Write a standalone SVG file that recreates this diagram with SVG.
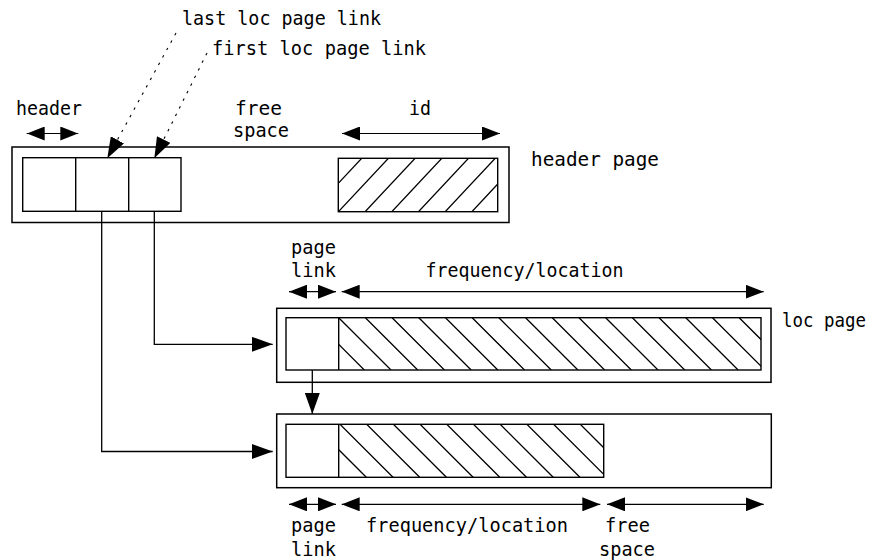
<svg xmlns="http://www.w3.org/2000/svg" width="877" height="560" viewBox="0 0 877 560">
  <defs>
    <style>
      .box { fill: #fff; stroke: #000; stroke-width: 1.5; }
      .cell { fill: none; stroke: #000; stroke-width: 1.4; }
      .hatch { fill: none; stroke: #000; stroke-width: 1.3; }
      .dim { fill: none; stroke: #000; stroke-width: 1.2; marker-start: url(#ah); marker-end: url(#ah); }
      .conn { fill: none; stroke: #000; stroke-width: 1.3; marker-end: url(#ahBig); }
      .dot { fill: none; stroke: #000; stroke-width: 1.1; stroke-dasharray: 2.5 6; marker-end: url(#ahBig); }
      text { font-family: "DejaVu Sans Mono", "Liberation Mono", monospace; font-size: 19.5px; fill: #000; }
    </style>
    <marker id="ah" viewBox="0 0 18 14" markerWidth="18" markerHeight="14" markerUnits="userSpaceOnUse" refX="18" refY="7" orient="auto-start-reverse">
      <path d="M0,0 L18,7 L0,14 z" fill="#000"/>
    </marker>
    <marker id="ahBig" viewBox="0 0 21 15" markerWidth="21" markerHeight="15" markerUnits="userSpaceOnUse" refX="21" refY="7.5" orient="auto">
      <path d="M0,0 L21,7.5 L0,15 z" fill="#000"/>
    </marker>
    <clipPath id="clipId"><rect x="338.3" y="158.3" width="159.4" height="53.4"/></clipPath>
    <clipPath id="clipLoc1"><rect x="338.7" y="317.7" width="422.3" height="52.3"/></clipPath>
    <clipPath id="clipLoc2"><rect x="338.7" y="424.3" width="265" height="53"/></clipPath>
  </defs>
  <rect width="877" height="560" fill="#fff"/>

  <!-- header page -->
  <g id="header-page">
    <rect class="box" x="12" y="147" width="497" height="75.5"/>
    <rect class="cell" x="22.7" y="157.7" width="158.3" height="53.6"/>
    <line class="cell" x1="75.7" y1="157.7" x2="75.7" y2="211.3"/>
    <line class="cell" x1="128.7" y1="157.7" x2="128.7" y2="211.3"/>
    <g clip-path="url(#clipId)">
      <path class="hatch" d="M361.7,158.3 L311.7,211.7 M388.4,158.3 L338.4,211.7 M415.1,158.3 L365.1,211.7 M441.8,158.3 L391.8,211.7 M468.5,158.3 L418.5,211.7 M495.2,158.3 L445.2,211.7 M521.9,158.3 L471.9,211.7"/>
    </g>
    <rect class="cell" x="338.3" y="158.3" width="159.4" height="53.4"/>
    <text x="531" y="166" textLength="128" lengthAdjust="spacingAndGlyphs">header page</text>
  </g>

  <!-- loc page 1 -->
  <g id="loc-page-1">
    <rect class="box" x="276.7" y="308.3" width="494.3" height="74"/>
    <g clip-path="url(#clipLoc1)">
      <path class="hatch" d="M312,317.7 L364.3,370 M338.7,317.7 L391,370 M365.4,317.7 L417.7,370 M392.1,317.7 L444.4,370 M418.8,317.7 L471.1,370 M445.5,317.7 L497.8,370 M472.2,317.7 L524.5,370 M498.9,317.7 L551.2,370 M525.6,317.7 L577.9,370 M552.3,317.7 L604.6,370 M579,317.7 L631.3,370 M605.7,317.7 L658,370 M632.4,317.7 L684.7,370 M659.1,317.7 L711.4,370 M685.8,317.7 L738.1,370 M712.5,317.7 L764.8,370 M739.2,317.7 L791.5,370"/>
    </g>
    <rect class="cell" x="286" y="317.7" width="475" height="52.3"/>
    <line class="cell" x1="338.7" y1="317.7" x2="338.7" y2="370"/>
    <text x="782" y="327" font-size="17.5" textLength="84" lengthAdjust="spacingAndGlyphs">loc page</text>
  </g>

  <!-- loc page 2 -->
  <g id="loc-page-2">
    <rect class="box" x="276.7" y="414" width="494.6" height="73.7"/>
    <g clip-path="url(#clipLoc2)">
      <path class="hatch" d="M313.3,424.3 L366.3,477.3 M340,424.3 L393,477.3 M366.7,424.3 L419.7,477.3 M393.4,424.3 L446.4,477.3 M420.1,424.3 L473.1,477.3 M446.8,424.3 L499.8,477.3 M473.5,424.3 L526.5,477.3 M500.2,424.3 L553.2,477.3 M526.9,424.3 L579.9,477.3 M553.6,424.3 L606.6,477.3 M580.3,424.3 L633.3,477.3"/>
    </g>
    <rect class="cell" x="286" y="424.3" width="317.7" height="53"/>
    <line class="cell" x1="338.7" y1="424.3" x2="338.7" y2="477.3"/>
  </g>

  <!-- dimension labels -->
  <g id="labels">
    <text x="182" y="24.5" textLength="199" lengthAdjust="spacingAndGlyphs">last loc page link</text>
    <text x="212" y="54.5" textLength="214" lengthAdjust="spacingAndGlyphs">first loc page link</text>

    <text x="16" y="114.5" textLength="66" lengthAdjust="spacingAndGlyphs">header</text>
    <line class="dim" x1="26.7" y1="133.5" x2="78.3" y2="133.5"/>
    <text x="235" y="114.5" textLength="47" lengthAdjust="spacingAndGlyphs">free</text>
    <text x="233" y="137" textLength="56" lengthAdjust="spacingAndGlyphs">space</text>
    <text x="409" y="114.5" textLength="22" lengthAdjust="spacingAndGlyphs">id</text>
    <line class="dim" x1="342" y1="133.5" x2="500" y2="133.5"/>

    <text x="291" y="253.5" textLength="45" lengthAdjust="spacingAndGlyphs">page</text>
    <text x="291" y="277.3" textLength="45" lengthAdjust="spacingAndGlyphs">link</text>
    <line class="dim" x1="289" y1="291.7" x2="336" y2="291.7"/>
    <text x="425.5" y="277" textLength="198" lengthAdjust="spacingAndGlyphs">frequency/location</text>
    <line class="dim" x1="341.7" y1="291.7" x2="763.7" y2="291.7"/>

    <line class="dim" x1="289" y1="504.3" x2="336" y2="504.3"/>
    <line class="dim" x1="341.7" y1="504.3" x2="600.3" y2="504.3"/>
    <line class="dim" x1="607" y1="504.3" x2="763.7" y2="504.3"/>
    <text x="291" y="531.5" textLength="45" lengthAdjust="spacingAndGlyphs">page</text>
    <text x="291" y="555.5" textLength="45" lengthAdjust="spacingAndGlyphs">link</text>
    <text x="366" y="531.5" textLength="202" lengthAdjust="spacingAndGlyphs">frequency/location</text>
    <text x="605" y="531.5" textLength="45" lengthAdjust="spacingAndGlyphs">free</text>
    <text x="599" y="555.5" textLength="56" lengthAdjust="spacingAndGlyphs">space</text>
  </g>

  <!-- connectors -->
  <g id="connectors">
    <path class="dot" d="M176,33 L107.3,158.3"/>
    <path class="dot" d="M207,53 L154.3,158.3"/>
    <path class="conn" d="M154.3,211.3 L154.3,344.3 L272.7,344.3"/>
    <path class="conn" d="M101.7,211.3 L101.7,451.5 L272.7,451.5"/>
    <path class="conn" d="M312.3,370 L312.3,414"/>
  </g>
</svg>
